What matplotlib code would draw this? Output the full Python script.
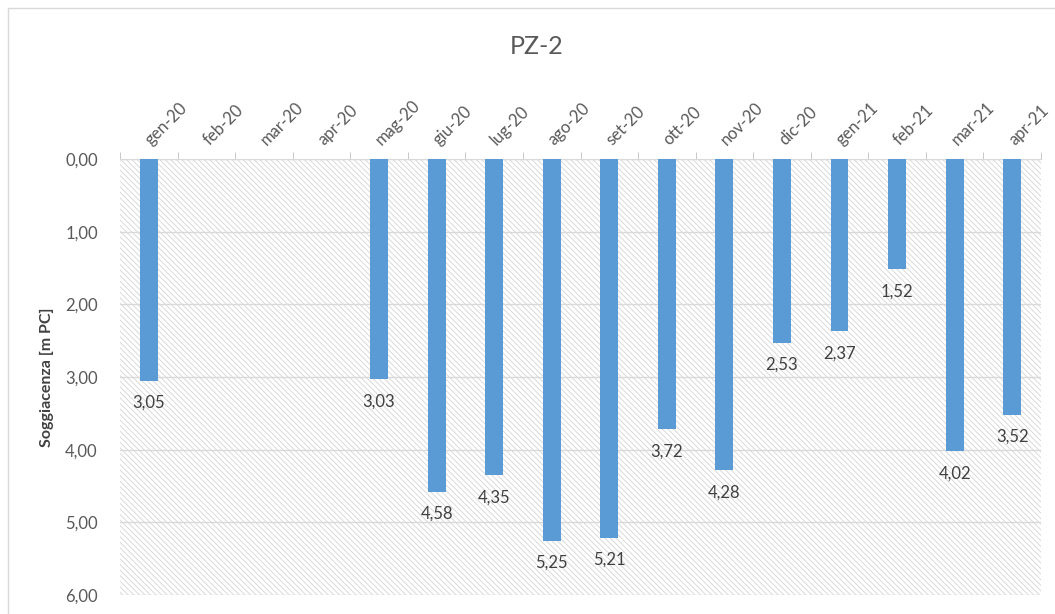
import numpy as np
import matplotlib
matplotlib.use('Agg')
import matplotlib.pyplot as plt
import matplotlib.transforms as mtransforms
from matplotlib.patches import Rectangle
from matplotlib.ticker import FuncFormatter

plt.rcParams['font.family'] = ['Lato', 'DejaVu Sans']
plt.rcParams['hatch.linewidth'] = 0.6

months = ['gen-20', 'feb-20', 'mar-20', 'apr-20', 'mag-20', 'giu-20', 'lug-20', 'ago-20',
          'set-20', 'ott-20', 'nov-20', 'dic-20', 'gen-21', 'feb-21', 'mar-21', 'apr-21']
depth = [3.05, np.nan, np.nan, np.nan, 3.03, 4.58, 4.35, 5.25,
         5.21, 3.72, 4.28, 2.53, 2.37, 1.52, 4.02, 3.52]
yticks = [0, 1, 2, 3, 4, 5, 6]

W, H = 1055, 614
fig = plt.figure(figsize=(W / 100, H / 100), dpi=100)
ax = fig.add_axes([120 / W, 1 - 595 / H, 921 / W, 436 / H])

# outer chart border (only left and top visible in the crop)
fig.patches.append(Rectangle((8 / W, -0.1), 1.2, 1 - 8 / H + 0.1, transform=fig.transFigure,
                             fill=False, edgecolor='#d9d9d9', linewidth=1.0))

# hatched plot area
ax.add_patch(Rectangle((0, 0), 1, 1, transform=ax.transAxes, facecolor='white',
                       edgecolor='#d4d4d4', linewidth=0, hatch='\\' * 6, zorder=0))

x = np.arange(len(months))
ax.bar(x, depth, width=0.31, color='#5b9bd5', zorder=3)

for xi, v in zip(x, depth):
    if np.isnan(v):
        continue
    ax.annotate(f'{v:.2f}'.replace('.', ','), (xi, v), xytext=(0, -16), textcoords='offset points',
                ha='center', va='center', fontsize=12, color='#404040', zorder=4)

ax.set_xlim(-0.5, len(months) - 0.5)
ax.set_ylim(6, 0)
ax.set_yticks(yticks)
ax.yaxis.set_major_formatter(FuncFormatter(lambda v, p: f'{v:.2f}'.replace('.', ',')))
ax.grid(axis='y', color='#d9d9d9', linewidth=1.0, zorder=1)
ax.set_axisbelow(True)

ax.xaxis.tick_top()
ax.set_xticks(x)
ax.set_xticklabels(months, rotation=45, ha='left', va='bottom', rotation_mode='anchor')
ax.set_xticks(np.arange(-0.5, len(months)), minor=True)
ax.tick_params(axis='x', which='major', length=0, pad=8, labelsize=12, labelcolor='#595959')
ax.tick_params(axis='x', which='minor', length=5, color='#bfbfbf', direction='out')
ax.tick_params(axis='y', length=0, pad=16, labelsize=12, labelcolor='#595959')
shift = mtransforms.ScaledTranslation(5 / 100, 0, fig.dpi_scale_trans)
for lab in ax.get_xticklabels():
    lab.set_transform(lab.get_transform() + shift)

for s in ['left', 'right', 'bottom']:
    ax.spines[s].set_visible(False)
ax.spines['top'].set_color('#d9d9d9')

ax.set_ylabel('Soggiacenza [m PC]', fontsize=11.5, fontweight='bold', color='#404040', labelpad=8)
fig.text(537 / W, 1 - 46 / H, 'PZ-2', ha='center', va='center', fontsize=18, color='#595959')

fig.savefig('out.png', dpi=100, facecolor='white')
